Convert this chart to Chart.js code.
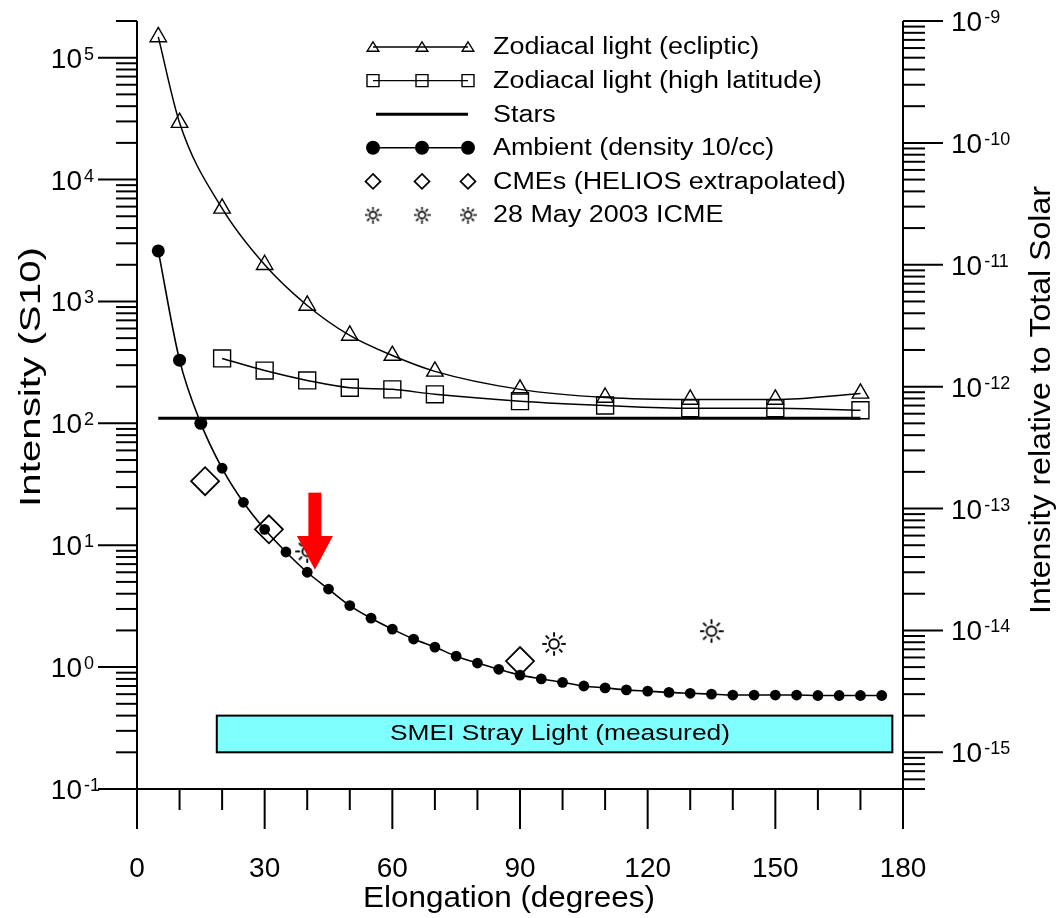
<!DOCTYPE html>
<html><head><meta charset="utf-8">
<script src="https://cdn.jsdelivr.net/npm/chart.js@4"></script>
<style>html,body{margin:0;padding:0;background:#fff}canvas{display:block}</style>
</head><body>
<canvas id="c" width="1063" height="918"></canvas>
<script>
// ---------- data ----------
const eclipticElong = [5,10,20,30,40,50,60,70,90,110,130,150,170];
const eclipticInt   = [148000,29300,5800,2000,927,526,360,267,190,163,157,157,176];
const highLatElong  = [20,30,40,50,60,70,90,110,130,150,170];
const highLatInt    = [341,271,225,196,190,173,152,140,133,133,128];
const starsElong    = [5,170];
const starsInt      = [110,110];
const ambientElong  = [5,10,15,20,25,30,35,40,45,50,55,60,65,70,75,80,85,90,95,100,105,110,115,120,125,130,135,140,145,150,155,160,165,170,175];
const ambientInt    = [2600,330,100,42.8,22.5,13.5,8.8,6.0,4.37,3.2,2.52,2.05,1.70,1.46,1.23,1.08,0.96,0.86,0.80,0.75,0.70,0.675,0.65,0.635,0.62,0.61,0.60,0.59,0.59,0.59,0.59,0.585,0.585,0.585,0.585];
const cmeElong      = [16,31,90];
const cmeInt        = [33.5,13.5,1.12];
const icmeElong     = [40,98,135];
const icmeInt       = [8.9,1.55,1.97];
const strayElong    = [18.75,177.5];
const strayInt      = [0.2,0.4];
const strayLabel    = 'SMEI Stray Light (measured)';
const arrowElong    = [41.8];
const arrowInt      = [27,11.9,6.3]; // shaft top, head base, tip
const xTicks        = [0,30,60,90,120,150,180];
const xTickLabels   = ['0','30','60','90','120','150','180'];
const xMinorTicks   = [10,20,40,50,70,80,100,110,130,140,160,170];
const leftExps      = [-1,0,1,2,3,4,5];
const rightExps     = [-15,-14,-13,-12,-11,-10,-9];
const legendLabels  = ['Zodiacal light (ecliptic)','Zodiacal light (high latitude)','Stars','Ambient (density 10/cc)','CMEs (HELIOS extrapolated)','28 May 2003 ICME'];
const xTitle = 'Elongation (degrees)';
const yTitle = 'Intensity (S10)';
const y2Title = 'Intensity relative to Total Solar';

const pts = (xs, ys) => xs.map((x,i)=>({x:x,y:ys[i]}));
const FONT = "'Liberation Sans', Arial, Helvetica, sans-serif";

function makeSun(d, lw){
  const c=document.createElement('canvas'); c.width=d; c.height=d;
  const g=c.getContext('2d'); const m=d/2;
  g.strokeStyle='#000'; g.lineWidth=lw;
  g.beginPath(); g.arc(m,m,d*0.2,0,Math.PI*2); g.stroke();
  for(let i=0;i<8;i++){const a=i*Math.PI/4;
    g.beginPath(); g.moveTo(m+Math.cos(a)*d*0.3,m+Math.sin(a)*d*0.3);
    g.lineTo(m+Math.cos(a)*d*0.49,m+Math.sin(a)*d*0.49); g.stroke();}
  return c;
}
const sunBig = makeSun(24,1.9);
const sunSmall = makeSun(17,1.6);

function txt(ctx,s,x,y,size,align,sx,rot,target){
  ctx.save(); ctx.translate(x,y); if(rot) ctx.rotate(rot);
  ctx.font=size+'px '+FONT;
  if(target){ sx = target/ctx.measureText(s).width; }
  ctx.scale(sx||1,1);
  ctx.textAlign=align; ctx.textBaseline='middle'; ctx.fillStyle='#000';
  ctx.fillText(s,0,0); ctx.restore();
}
function seg(ctx,x1,y1,x2,y2){ctx.beginPath();ctx.moveTo(x1,y1);ctx.lineTo(x2,y2);ctx.stroke();}

function sym(ctx,type,x,y,s){
  ctx.save(); ctx.strokeStyle='#000'; ctx.fillStyle='#000'; ctx.lineWidth=1.4;
  ctx.beginPath();
  if(type==='tri'){ctx.moveTo(x,y-s*0.95);ctx.lineTo(x+s*0.9,y+s*0.5);ctx.lineTo(x-s*0.9,y+s*0.5);ctx.closePath();ctx.stroke();}
  else if(type==='sq'){ctx.rect(x-s,y-s,2*s,2*s);ctx.stroke();}
  else if(type==='dot'){ctx.arc(x,y,s,0,Math.PI*2);ctx.fill();}
  else if(type==='dia'){ctx.lineWidth=1.7;ctx.moveTo(x,y-s);ctx.lineTo(x+s,y);ctx.lineTo(x,y+s);ctx.lineTo(x-s,y);ctx.closePath();ctx.stroke();}
  else if(type==='sun'){ctx.drawImage(sunSmall,x-8.5,y-8.5);}
  ctx.restore();
}

const decor = {
  id:'decor',
  beforeDatasetsDraw(chart){
    const ctx=chart.ctx, xs=chart.scales.x, yl=chart.scales.y;
    const x0=xs.getPixelForValue(strayElong[0]), x1=xs.getPixelForValue(strayElong[1]);
    const y0=yl.getPixelForValue(strayInt[1]), y1=yl.getPixelForValue(strayInt[0]);
    ctx.save(); ctx.fillStyle='#80ffff'; ctx.fillRect(x0,y0,x1-x0,y1-y0);
    ctx.strokeStyle='#000'; ctx.lineWidth=2; ctx.strokeRect(x0,y0,x1-x0,y1-y0); ctx.restore();
    txt(ctx,strayLabel,560,(y0+y1)/2,22,'center',1,0,340);
  },
  afterDatasetsDraw(chart){
    const ctx=chart.ctx, xs=chart.scales.x, yl=chart.scales.y, yr=chart.scales.y2;
    const a=chart.chartArea, L=a.left, R=a.right, T=a.top, B=a.bottom;
    // red arrow
    const ax=xs.getPixelForValue(arrowElong[0]);
    const yt=yl.getPixelForValue(arrowInt[0]), yb=yl.getPixelForValue(arrowInt[1]), yp=yl.getPixelForValue(arrowInt[2]);
    ctx.save(); ctx.fillStyle='#ff0000';
    ctx.fillRect(ax-6.5,yt,13,yb-yt+1);
    ctx.beginPath(); ctx.moveTo(ax-18,yb); ctx.lineTo(ax+18,yb); ctx.lineTo(ax,yp); ctx.closePath(); ctx.fill();
    ctx.restore();
    // axes
    ctx.save(); ctx.strokeStyle='#000'; ctx.lineWidth=2; ctx.lineCap='butt';
    seg(ctx,L,T,L,B); seg(ctx,R,T,R,B); seg(ctx,L-1,B,R+1,B);
    xTicks.forEach((v,i)=>{const p=xs.getPixelForValue(v); seg(ctx,p,B,p,B+40);
      ctx.font='28px '+FONT; ctx.textAlign='center'; ctx.textBaseline='alphabetic'; ctx.fillStyle='#000';
      ctx.fillText(xTickLabels[i],p,877);});
    xMinorTicks.forEach(v=>{const p=xs.getPixelForValue(v); seg(ctx,p,B,p,B+21);});
    // left log axis
    const lmax=yl.max*1.0001, rmax=yr.max*1.0001;
    leftExps.forEach(e=>{
      const base=Math.pow(10,e); const p=yl.getPixelForValue(base);
      seg(ctx,L-39,p,L,p);
      for(let m=2;m<=9;m++){const v=m*base; if(v<=lmax){const q=yl.getPixelForValue(v); seg(ctx,L-21,q,L,q);}}
      ctx.fillStyle='#000'; ctx.textBaseline='alphabetic';
      ctx.font='28px '+FONT; ctx.textAlign='right'; ctx.fillText('10',82,p+10);
      ctx.font='18px '+FONT; ctx.textAlign='left'; ctx.fillText(String(e),84,p+2);
    });
    // right log axis
    rightExps.forEach(e=>{
      const base=Math.pow(10,e); const p=yr.getPixelForValue(base);
      seg(ctx,R,p,R+40,p);
      for(let m=2;m<=9;m++){const v=m*base; if(v<=rmax && v>=yr.min*0.9999){const q=yr.getPixelForValue(v); seg(ctx,R,q,R+22,q);}}
      for(let m=5;m<=9;m++){const v=m*base/10; if(v>=yr.min*0.9999 && e===rightExps[0]){const q=yr.getPixelForValue(v); seg(ctx,R,q,R+22,q);}}
      ctx.fillStyle='#000'; ctx.textBaseline='alphabetic';
      ctx.font='28px '+FONT; ctx.textAlign='left'; ctx.fillText('10',951,p+10);
      const w=ctx.measureText('10').width;
      ctx.font='18px '+FONT; ctx.fillText(String(e),951+w+2,p+2);
    });
    ctx.restore();
    // titles
    txt(ctx,xTitle,509,899,30,'center',1,0,292);
    txt(ctx,yTitle,32,377,29,'center',1,-Math.PI/2,260);
    txt(ctx,y2Title,1042,400,29,'center',1,-Math.PI/2,428);
    // legend
    const rows=[47,80.6,114.2,147.8,181.4,215];
    const lx=[373,422,468];
    ctx.save(); ctx.strokeStyle='#000';
    ctx.lineWidth=1.3; seg(ctx,lx[0],rows[0],lx[2],rows[0]); lx.forEach(x=>sym(ctx,'tri',x,rows[0]+1,6.5));
    ctx.lineWidth=1.3; seg(ctx,lx[0],rows[1],lx[2],rows[1]); lx.forEach(x=>sym(ctx,'sq',x,rows[1],6));
    ctx.lineWidth=3; seg(ctx,lx[0]+3,rows[2],lx[2],rows[2]);
    ctx.lineWidth=1.6; seg(ctx,lx[0],rows[3],lx[2],rows[3]); lx.forEach(x=>sym(ctx,'dot',x,rows[3],7));
    lx.forEach(x=>sym(ctx,'dia',x,rows[4],7.5));
    lx.forEach(x=>sym(ctx,'sun',x,rows[5],8));
    ctx.restore();
    legendLabels.forEach((s,i)=>txt(ctx,s,493,rows[i]+1,23,'left',1.17));
  }
};

new Chart(document.getElementById('c'),{
  type:'scatter',
  data:{datasets:[
    {label:legendLabels[4],data:pts(cmeElong,cmeInt),showLine:false,pointStyle:'rectRot',pointRadius:14,
     pointBorderColor:'#000',pointBackgroundColor:'rgba(0,0,0,0)',pointBorderWidth:1.8},
    {label:legendLabels[5],data:pts(icmeElong,icmeInt),showLine:false,pointStyle:sunBig},
    {label:legendLabels[0],data:pts(eclipticElong,eclipticInt),showLine:true,borderColor:'#000',borderWidth:1.5,
     cubicInterpolationMode:'monotone',pointStyle:'triangle',pointRadius:9.5,pointBorderColor:'#000',
     pointBackgroundColor:'rgba(0,0,0,0)',pointBorderWidth:1.4},
    {label:legendLabels[1],data:pts(highLatElong,highLatInt),showLine:true,borderColor:'#000',borderWidth:1.5,
     cubicInterpolationMode:'monotone',pointStyle:'rect',pointRadius:12,pointBorderColor:'#000',
     pointBackgroundColor:'rgba(0,0,0,0)',pointBorderWidth:1.4},
    {label:legendLabels[2],data:pts(starsElong,starsInt),showLine:true,borderColor:'#000',borderWidth:3,pointRadius:0},
    {label:legendLabels[3],data:pts(ambientElong,ambientInt),showLine:true,borderColor:'#000',borderWidth:1.6,
     cubicInterpolationMode:'monotone',pointStyle:'circle',pointRadius:c=>c.dataIndex<3?6.5:5.4,
     pointBorderColor:'#000',pointBackgroundColor:'#000',pointBorderWidth:0}
  ]},
  options:{
    responsive:false,animation:false,devicePixelRatio:1,
    layout:{padding:{left:137,top:21,right:160,bottom:129}},
    plugins:{legend:{display:false},tooltip:{enabled:false}},
    scales:{
      x:{type:'linear',min:0,max:180,display:false},
      y:{type:'logarithmic',min:0.1,max:2e5,display:false},
      y2:{type:'logarithmic',min:5e-16,max:1e-9,display:false}
    }
  },
  plugins:[decor]
});
</script>
</body></html>
